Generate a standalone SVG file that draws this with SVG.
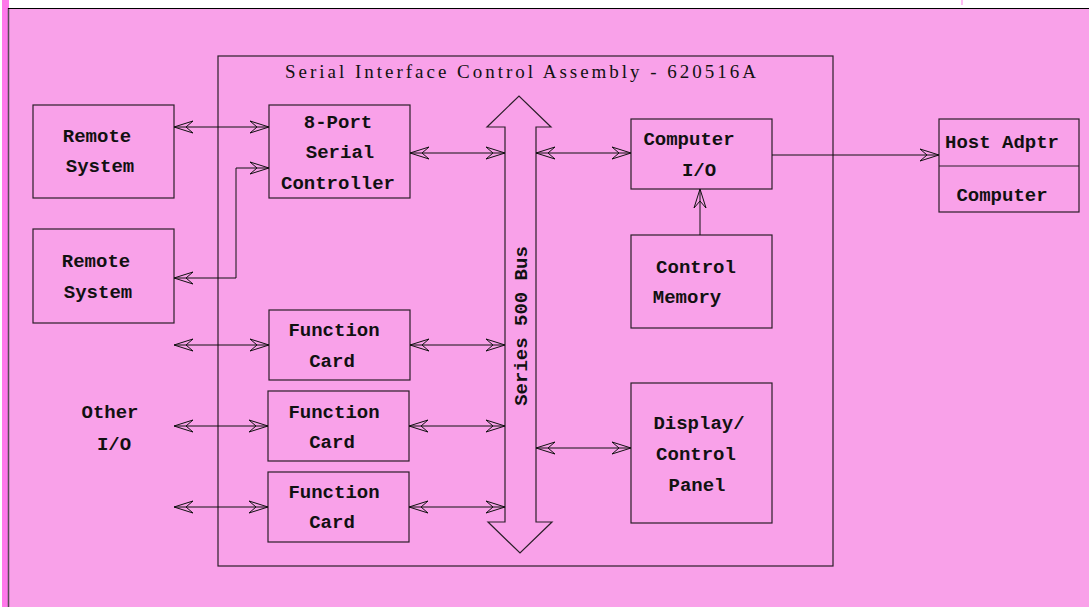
<svg xmlns="http://www.w3.org/2000/svg" width="1089" height="607" viewBox="0 0 1089 607">
  <style>
    .box { fill: none; stroke: #2a1f28; stroke-width: 1.2; }
    .lbl { font-family: "Liberation Mono", "Courier New", monospace; font-size: 19px; font-weight: bold; fill: #111; text-anchor: middle; }
    .title { font-family: "Liberation Serif", "Times New Roman", serif; font-size: 19px; fill: #111; }
    .wire { fill: none; stroke: #111; stroke-width: 1; }
  </style>
  <defs>
    <marker id="head" viewBox="-21 -8 22 16" refX="0" refY="0" markerWidth="22" markerHeight="16" markerUnits="userSpaceOnUse" orient="auto-start-reverse">
      <path d="M0,0 L-19,-6 L-12,0 L-19,6 Z" fill="none" stroke="#111" stroke-width="1"/>
    </marker>
  </defs>

  <!-- page background and frame -->
  <rect x="0" y="0" width="1089" height="607" fill="#ffffff"/>
  <rect x="2" y="0" width="7" height="607" fill="#ff78ea"/>
  <rect x="9" y="8" width="1080" height="599" fill="#f9a1e9"/>
  <line x1="8.5" y1="8" x2="8.5" y2="607" stroke="#5a4a58" stroke-width="1.5"/>
  <line x1="8" y1="8.5" x2="1089" y2="8.5" stroke="#000" stroke-width="1.2"/>
  <rect x="961.5" y="0" width="1" height="5" fill="#ff78ea"/>

  <!-- assembly enclosure -->
  <g id="assembly">
    <rect class="box" x="218" y="56" width="615" height="510"/>
    <text class="title" x="285" y="78" textLength="471" lengthAdjust="spacing">Serial Interface Control Assembly - 620516A</text>
  </g>

  <!-- bus -->
  <g id="bus">
    <polygon class="box" points="505,522 505,127 487,127 519,96 551,127 536,127 536,522 552,522 520,553 488,522"/>
    <text class="lbl" x="527" y="326" transform="rotate(-90 527 326)">Series 500 Bus</text>
  </g>

  <g id="remote1">
    <rect class="box" x="33" y="105" width="141" height="93"/>
    <text class="lbl" x="97" y="142">Remote</text>
    <text class="lbl" x="100" y="172">System</text>
  </g>

  <g id="remote2">
    <rect class="box" x="33" y="229" width="141" height="94"/>
    <text class="lbl" x="96" y="267">Remote</text>
    <text class="lbl" x="98" y="298">System</text>
  </g>

  <g id="serial-controller">
    <rect class="box" x="269" y="105" width="141" height="93"/>
    <text class="lbl" x="338" y="128">8-Port</text>
    <text class="lbl" x="340" y="158">Serial</text>
    <text class="lbl" x="338" y="189">Controller</text>
  </g>

  <g id="function-card-1">
    <rect class="box" x="269" y="310" width="141" height="70"/>
    <text class="lbl" x="334" y="336">Function</text>
    <text class="lbl" x="332" y="367">Card</text>
  </g>

  <g id="function-card-2">
    <rect class="box" x="268" y="391" width="141" height="70"/>
    <text class="lbl" x="334" y="418">Function</text>
    <text class="lbl" x="332" y="448">Card</text>
  </g>

  <g id="function-card-3">
    <rect class="box" x="268" y="472" width="141" height="70"/>
    <text class="lbl" x="334" y="498">Function</text>
    <text class="lbl" x="332" y="528">Card</text>
  </g>

  <g id="other-io">
    <text class="lbl" x="110" y="418">Other</text>
    <text class="lbl" x="114" y="450">I/O</text>
  </g>

  <g id="computer-io">
    <rect class="box" x="631" y="119" width="141" height="70"/>
    <text class="lbl" x="689" y="145">Computer</text>
    <text class="lbl" x="699" y="176">I/O</text>
  </g>

  <g id="control-memory">
    <rect class="box" x="631" y="235" width="141" height="93"/>
    <text class="lbl" x="696" y="273">Control</text>
    <text class="lbl" x="687" y="303">Memory</text>
  </g>

  <g id="display-panel">
    <rect class="box" x="631" y="383" width="141" height="140"/>
    <text class="lbl" x="699" y="429">Display/</text>
    <text class="lbl" x="696" y="460">Control</text>
    <text class="lbl" x="697" y="491">Panel</text>
  </g>

  <g id="host-adapter">
    <rect class="box" x="939" y="119" width="140" height="93"/>
    <line class="box" x1="939" y1="166" x2="1079" y2="166"/>
    <text class="lbl" x="1002" y="148">Host Adptr</text>
    <text class="lbl" x="1002" y="201">Computer</text>
  </g>

  <!-- connectors -->
  <g id="connectors">
    <path class="wire" d="M174,127 H269" marker-start="url(#head)" marker-end="url(#head)"/>
    <path class="wire" d="M269,168 H236 V278 H174" marker-start="url(#head)" marker-end="url(#head)"/>
    <path class="wire" d="M410,153 H505" marker-start="url(#head)" marker-end="url(#head)"/>
    <path class="wire" d="M536,153 H631" marker-start="url(#head)" marker-end="url(#head)"/>
    <path class="wire" d="M772,155 H939" marker-end="url(#head)"/>
    <path class="wire" d="M700,235 V189" marker-end="url(#head)"/>
    <path class="wire" d="M174,345 H269" marker-start="url(#head)" marker-end="url(#head)"/>
    <path class="wire" d="M410,345 H505" marker-start="url(#head)" marker-end="url(#head)"/>
    <path class="wire" d="M174,426 H268" marker-start="url(#head)" marker-end="url(#head)"/>
    <path class="wire" d="M409,426 H505" marker-start="url(#head)" marker-end="url(#head)"/>
    <path class="wire" d="M174,507 H268" marker-start="url(#head)" marker-end="url(#head)"/>
    <path class="wire" d="M409,507 H505" marker-start="url(#head)" marker-end="url(#head)"/>
    <path class="wire" d="M536,448 H631" marker-start="url(#head)" marker-end="url(#head)"/>
  </g>
</svg>
